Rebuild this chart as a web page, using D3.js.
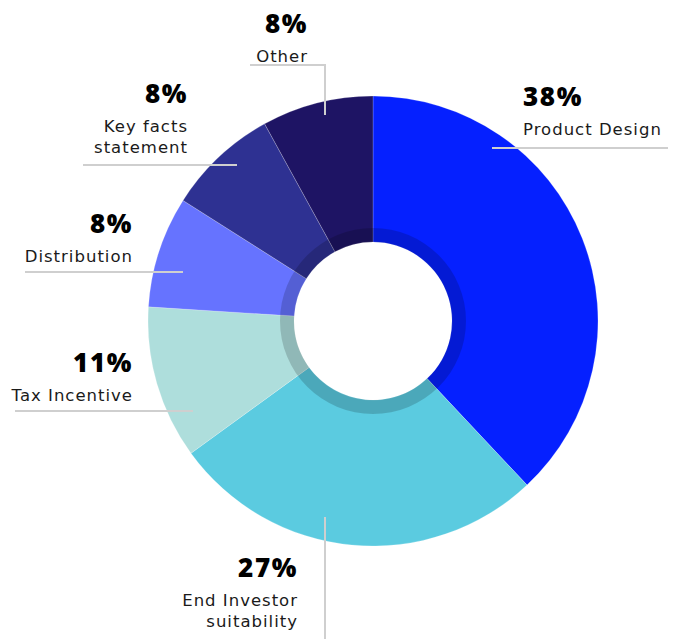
<!DOCTYPE html>
<html>
<head>
<meta charset="utf-8">
<script src="https://cdn.jsdelivr.net/npm/d3@7"></script>
<style>
  html, body { margin: 0; padding: 0; background: #fff; }
  svg { display: block; }
  .pct { font-family: "Noto Sans", "Open Sans", sans-serif; font-weight: 900; font-size: 26px; fill: #000; letter-spacing: 1.6px; }
  .lbl { font-family: "DejaVu Sans", sans-serif; font-weight: 400; font-size: 16.5px; fill: #1a1a1a; letter-spacing: 1px; }
</style>
</head>
<body>
<svg id="chart" width="680" height="639"></svg>
<script>
// Share of responses by area
const categories = ["Product Design", "End Investor suitability", "Tax Incentive", "Distribution", "Key facts statement", "Other"];
const values = [38, 27, 11, 8, 8, 8];
const colors = ["#0520FF", "#5BCBE0", "#AEDEDC", "#6673FF", "#2E3192", "#1E1464"];

// Label text lines per slice
const labelLines = [
  ["Product Design"],
  ["End Investor", "suitability"],
  ["Tax Incentive"],
  ["Distribution"],
  ["Key facts", "statement"],
  ["Other"]
];

// Callout layout: text anchor point, alignment and leader path (relative to the chart centre)
const layout = [
  { x: 150, y: -215, anchor: "start", path: [[119, -173], [295, -173]] },
  { x: -75, y: 256, anchor: "end", path: [[-48, 196], [-48, 318]] },
  { x: -240, y: 51, anchor: "end", path: [[-180, 90], [-358, 90]] },
  { x: -240, y: -88, anchor: "end", path: [[-190, -49], [-348, -49]] },
  { x: -185, y: -218, anchor: "end", path: [[-136, -156], [-290, -156]] },
  { x: -65, y: -288, anchor: "end", path: [[-48, -206], [-48, -256], [-123, -256]] }
];

const cx = 373, cy = 321;
const outerR = 225, innerR = 79, ringR = 93;

const svg = d3.select("#chart");
const g = svg.append("g").attr("transform", `translate(${cx},${cy})`);

const pie = d3.pie().sort(null).value(d => d.value).startAngle(0).endAngle(2 * Math.PI);
const data = categories.map((c, i) => ({ name: c, value: values[i], color: colors[i], lines: labelLines[i], pos: layout[i] }));
const arcs = pie(data);

const arc = d3.arc().innerRadius(innerR).outerRadius(outerR);

g.selectAll("path.slice")
  .data(arcs)
  .join("path")
  .attr("class", "slice")
  .attr("d", arc)
  .attr("fill", d => d.data.color)
  .attr("stroke", "rgba(255,255,255,0.35)")
  .attr("stroke-width", 0.6);

// Shaded inner band
g.append("path")
  .attr("d", d3.arc().innerRadius(innerR).outerRadius(ringR).startAngle(0).endAngle(2 * Math.PI)())
  .attr("fill", "#000")
  .attr("opacity", 0.17);

// Leader lines
const line = d3.line();
g.selectAll("path.leader")
  .data(arcs)
  .join("path")
  .attr("class", "leader")
  .attr("d", d => line(d.data.pos.path))
  .attr("fill", "none")
  .attr("stroke", "#CFCFCF")
  .attr("stroke-width", 2);

// Labels
const labels = g.selectAll("g.label")
  .data(arcs)
  .join("g")
  .attr("class", "label")
  .attr("transform", d => `translate(${d.data.pos.x},${d.data.pos.y})`)
  .attr("text-anchor", d => d.data.pos.anchor);

labels.append("text")
  .attr("class", "pct")
  .attr("y", 0)
  .text(d => d3.format(".0f")(d.data.value) + "%");

labels.each(function(d) {
  const sel = d3.select(this);
  d.data.lines.forEach((t, i) => {
    sel.append("text")
      .attr("class", "lbl")
      .attr("y", 29 + i * 21)
      .text(t);
  });
});
</script>
</body>
</html>
